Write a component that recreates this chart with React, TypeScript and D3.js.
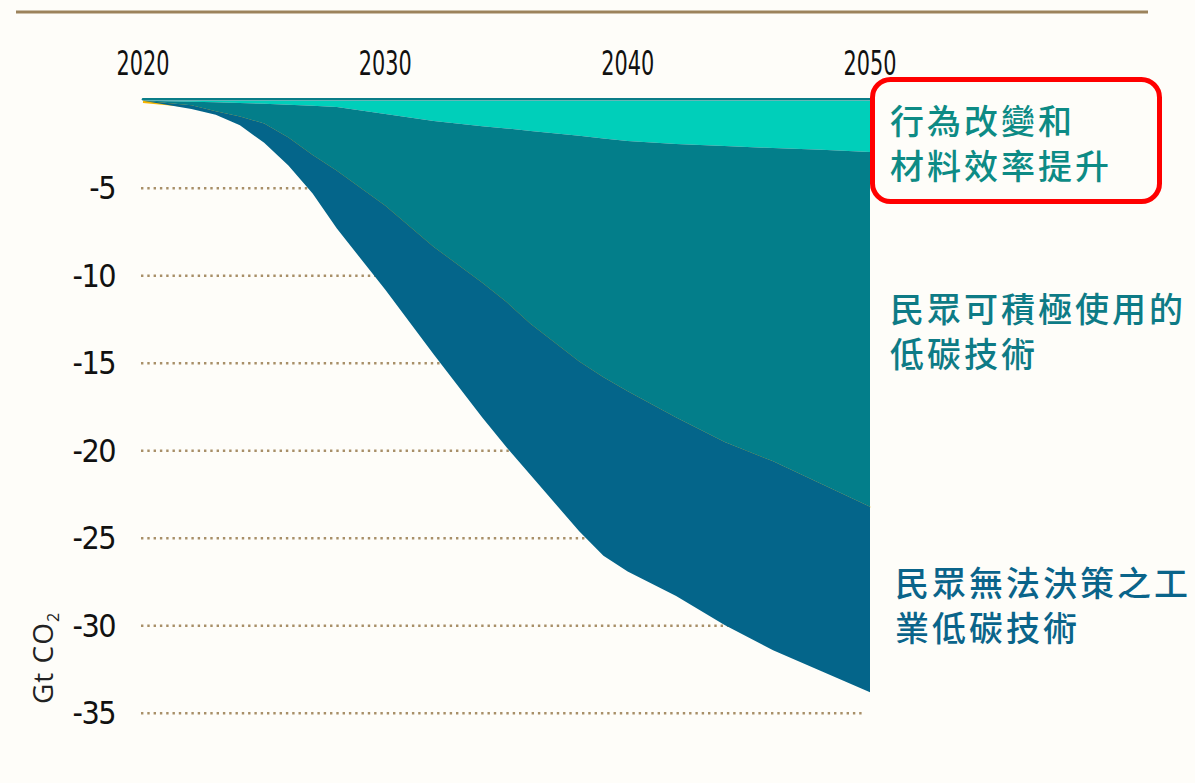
import React from 'react';
import * as d3 from 'd3';

// reduction wedges, Gt CO2 per year (negative = reduction)
const years = [2020, 2022, 2023, 2024, 2025, 2026, 2027, 2028, 2030, 2032, 2034, 2035, 2036, 2038, 2039, 2040, 2042, 2044, 2046, 2048, 2050];
const behaviour = [0, -0.05, -0.08, -0.13, -0.17, -0.22, -0.28, -0.35, -0.75, -1.15, -1.45, -1.58, -1.72, -2.0, -2.15, -2.3, -2.47, -2.58, -2.7, -2.8, -2.92];
const adoptable = [0, -0.2, -0.52, -0.77, -1.13, -1.88, -2.82, -3.65, -5.25, -7.2, -8.95, -9.92, -11.03, -12.9, -13.65, -14.3, -15.63, -16.92, -17.9, -19.1, -20.28];
const industrial = [0, -0.22, -0.2, -0.5, -1.1, -1.6, -2.2, -3.3, -4.8, -6.15, -7.7, -8.3, -8.65, -9.7, -10.2, -10.3, -10.2, -10.45, -10.8, -10.7, -10.6];

const xTicks = [2020, 2030, 2040, 2050];
const yTicks = [-5, -10, -15, -20, -25, -30, -35];

const seriesKeys = ['behaviour', 'adoptable', 'industrial'];
const seriesColors = ['#00cfba', '#037e8a', '#04658a'];
const labelLines = [
  ['行為改變和', '材料效率提升'],
  ['民眾可積極使用的', '低碳技術'],
  ['民眾無法決策之工', '業低碳技術'],
];
const labelColors = ['#0d8b85', '#0e7b86', '#0a648a'];

const W = 1195;
const H = 783;

export default function App() {
  const x = d3.scaleLinear().domain([2020, 2050]).range([143, 870]);
  const y = d3.scaleLinear().domain([0, -35]).range([100.8, 713.3]);

  const rows = years.map((yr, i) => ({
    year: yr,
    behaviour: behaviour[i],
    adoptable: adoptable[i],
    industrial: industrial[i],
  }));

  const stacked = d3.stack<any>().keys(seriesKeys).offset(d3.stackOffsetDiverging)(rows);

  const area = d3.area<any>()
    .x(d => x(d.data.year))
    .y0(d => y(d[0]))
    .y1(d => y(d[1]));

  // bottom edge of the whole stack, drawn as a thin yellow rim
  const bottomLine = d3.line<any>()
    .x(d => x(d.data.year))
    .y(d => y(d[1]));

  const zeroLine = d3.line<number>().x(d => x(d)).y(() => y(0));

  const labelX = [890, 890, 895];
  const labelY = [[119, 164], [307, 352], [581, 626]];

  return (
    <svg width={W} height={H} style={{ position: 'absolute', left: 0, top: 0 }}
      xmlns="http://www.w3.org/2000/svg">
      <rect x={0} y={0} width={W} height={H} fill="#fefdf9" />

      {/* top rule */}
      <line x1={16} x2={1148} y1={12} y2={12} stroke="#9c835c" strokeWidth={3} />

      {/* dotted grid */}
      {yTicks.map(t => (
        <line key={t} x1={141} x2={863} y1={y(t)} y2={y(t)}
          stroke="#a88f68" strokeWidth={2.5} strokeDasharray="2.4 3.9" />
      ))}

      {/* y tick labels */}
      {yTicks.map(t => (
        <text key={t} x={115} y={y(t) + 11} textAnchor="end"
          fontFamily="'Liberation Sans Narrow', 'DejaVu Sans Condensed', sans-serif"
          fontSize={32} letterSpacing={-1.5} fill="#111">{t}</text>
      ))}

      {/* x tick labels (top) */}
      {xTicks.map(t => (
        <text key={t} x={x(t)} y={75} textAnchor="middle"
          fontFamily="'Liberation Sans Narrow', 'DejaVu Sans Condensed', sans-serif"
          fontSize={34} textLength={53} lengthAdjust="spacingAndGlyphs" fill="#111">{t}</text>
      ))}

      {/* axis title */}
      <text transform="translate(53,658) rotate(-90)" textAnchor="middle"
        fontFamily="'Open Sans', sans-serif" fontSize={28} fill="#222" letterSpacing={1}>
        Gt CO<tspan fontSize={16} dy={6}>2</tspan>
      </text>

      <path d={bottomLine(stacked[2]) || ''} fill="none" stroke="#f7b500" strokeWidth={2.5}
        transform="translate(0,1)" />

      {stacked.map((s, i) => (
        <path key={seriesKeys[i]} d={area(s) || ''} fill={seriesColors[i]} />
      ))}

      <path d={zeroLine([2020, 2050]) || ''} fill="none" stroke="#0b7d88" strokeWidth={2.5}
        strokeLinecap="round" transform="translate(0,-1.5)" />

      {/* highlight box */}
      <rect x={872.5} y={79.5} width={287} height={122} rx={18} ry={18}
        fill="none" stroke="#ff0000" strokeWidth={5} />

      {labelLines.map((lines, i) => (
        <g key={i}>
          {lines.map((ln, j) => (
            <text key={j} x={labelX[i]} y={labelY[i][j]} dominantBaseline="central"
              fontFamily="'Noto Sans CJK TC', 'Noto Sans CJK SC', sans-serif"
              fontSize={34} fontWeight={500} letterSpacing={3} fill={labelColors[i]}>{ln}</text>
          ))}
        </g>
      ))}
    </svg>
  );
}
